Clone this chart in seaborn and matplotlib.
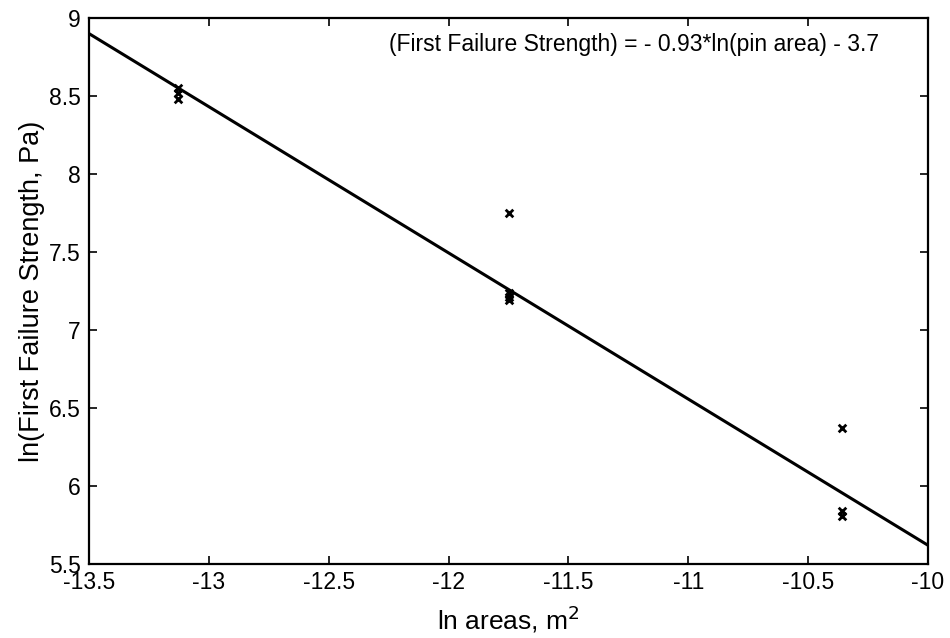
import matplotlib
matplotlib.use("Agg")
import matplotlib.pyplot as plt
import seaborn as sns
import numpy as np
import pandas as pd

# data
ln_area = [-13.13, -13.13, -13.13, -11.75, -11.75, -11.75, -11.75, -10.36, -10.36, -10.36]
ln_strength = [8.55, 8.52, 8.48, 7.75, 7.24, 7.21, 7.19, 6.37, 5.84, 5.81]
fit_x = [-13.5, -10.0]
fit_y = [8.90, 5.62]
equation = "(First Failure Strength) = - 0.93*ln(pin area) - 3.7"
x_ticks = [-13.5, -13, -12.5, -12, -11.5, -11, -10.5, -10]
y_ticks = [5.5, 6, 6.5, 7, 7.5, 8, 8.5, 9]

sns.set_theme(style="white")
plt.rcParams['font.family'] = ['Liberation Sans', 'DejaVu Sans']

fig = plt.figure(figsize=(9.5, 6.38), dpi=100)
ax = fig.add_axes([89/950, 1-564/638, (928-89)/950, (564-18)/638])

df = pd.DataFrame({"x": ln_area, "y": ln_strength})
sns.lineplot(x=fit_x, y=fit_y, color="black", linewidth=2.2, ax=ax)
sns.scatterplot(data=df, x="x", y="y", marker="x", color="black", s=30, linewidth=2, ax=ax)

ax.set_xlim(-13.5, -10)
ax.set_ylim(5.5, 9)
ax.set_xticks(x_ticks)
ax.set_xticklabels([f"{t:g}" for t in x_ticks])
ax.set_yticks(y_ticks)
ax.set_yticklabels([f"{t:g}" for t in y_ticks])
ax.tick_params(direction="in", length=6, width=1.2, colors="black", labelsize=16.5,
               top=True, right=True, bottom=True, left=True)
ax.tick_params(axis="x", pad=5)
ax.tick_params(axis="y", pad=6)
for sp in ax.spines.values():
    sp.set_color("black")
    sp.set_linewidth(1.6)

ax.set_xlabel("ln areas, m$^2$", fontsize=19, color="black", labelpad=7)
ax.set_ylabel("ln(First Failure Strength, Pa)", fontsize=19.5, color="black", labelpad=3)
ax.text(-12.25, 8.83, equation, fontsize=16.5, color="black", va="center", ha="left")

fig.savefig("out.png", dpi=100)
